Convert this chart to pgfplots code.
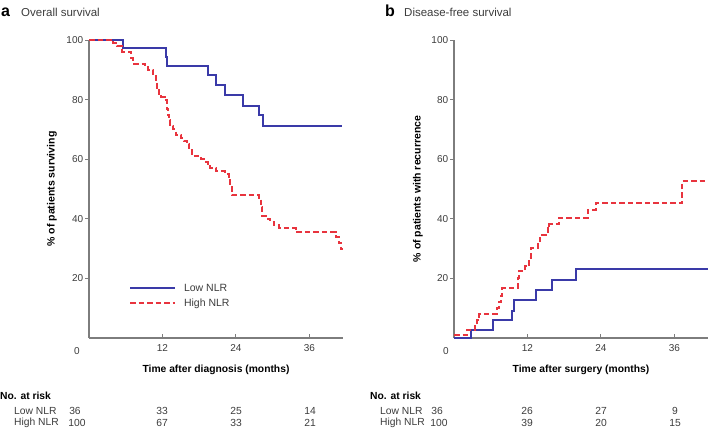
\documentclass[border=0pt]{standalone}
\usepackage{fontspec}
\setmainfont{Liberation Sans}
\usepackage{pgfplots}
\pgfplotsset{compat=1.18}

\definecolor{lownlr}{RGB}{58,58,168}
\definecolor{highnlr}{RGB}{232,52,62}
\definecolor{axgray}{RGB}{125,125,125}
\definecolor{txtgray}{RGB}{60,60,60}

\newcommand{\tickfont}{\fontsize{10}{12}\selectfont}
\newcommand{\riskfont}{\fontsize{10.3}{12}\selectfont}

\pgfplotsset{
  kmaxis/.style={
    scale only axis, width=254pt, height=298pt,
    anchor=south west,
    xmin=0, xmax=41.5, ymin=0, ymax=100,
    axis x line=bottom, axis y line=left,
    axis line style={-, axgray, line width=1.1pt},
    xtick={12,24,36}, ytick={20,40,60,80,100},
    xtick align=inside, ytick align=outside,
    major tick length=3.8pt,
    tick style={axgray, line width=0.9pt},
    clip=false,
    tick label style={font=\tickfont, text=txtgray},
    xticklabel style={yshift=-3pt},
    yticklabel style={xshift=1.5pt},
    /pgf/number format/assume math mode=true,
  },
  lowstyle/.style={const plot, lownlr, line width=2pt},
  highstyle/.style={const plot, highnlr, line width=2pt, dash pattern=on 5.5pt off 3pt},
}

\begin{document}
\begin{tikzpicture}
\useasboundingbox (0pt,0pt) rectangle (709pt,-428pt);

% panel a
\begin{axis}[kmaxis, at={(89pt,-338pt)},
  legend style={at={(rel axis cs:0.145,0.195)}, anchor=north west, draw=none, fill=none,
    font=\fontsize{10.5}{12}\selectfont, row sep=2pt, text=txtgray},
  legend cell align=left,
  legend image code/.code={\draw[#1] (0pt,0pt) -- (45pt,0pt);},
  legend style={nodes={inner xsep=8pt}},
]
\addplot[lowstyle] coordinates {
(0,100) (5.5,97.2) (12.6,94.4) (12.8,91.2) (19.4,88.1) (20.7,84.8) (22.2,81.4)
(25.1,78.0) (27.7,74.7) (28.5,71.1) (41.4,71.1)
};
\addlegendentry{Low NLR}
\addplot[highstyle] coordinates {
(0,100) (4.0,99) (4.6,98) (5.4,96) (6.9,94) (7.2,92) (9.2,91) (9.6,90) (10.5,88)
(10.9,86) (11.1,84) (11.4,82) (11.8,81) (12.4,80) (12.7,77) (12.9,75) (13.1,73)
(13.3,71) (13.7,70) (14.2,68) (15.0,67) (15.5,66) (16.0,65) (16.4,63) (16.8,61)
(18.3,60) (18.8,59) (19.4,58) (19.8,57) (20.8,56) (22.3,55) (22.8,53) (23.0,51)
(23.3,48) (27.8,47) (28.1,44) (28.3,41) (29.2,40) (29.6,39) (30.2,38) (31.0,37)
(33.8,35.5) (40.3,34) (40.8,32) (41.2,30) (41.4,29.6)
};
\addlegendentry{High NLR}
\end{axis}

% panel b
\begin{axis}[kmaxis, at={(454pt,-338pt)}]
\addplot[lowstyle] coordinates {
(0,0) (2.7,2.8) (6.3,6.1) (9.4,9.2) (9.8,12.6) (13.4,16.1) (16.0,19.6) (19.9,23.1) (41.5,23.1)
};
\addplot[highstyle] coordinates {
(0,1) (2.2,2.7) (3.5,4) (3.8,6) (4.1,8.1) (7.0,10) (7.3,12) (7.6,14) (7.9,16.8)
(10.5,20) (10.6,22.6) (11.6,24) (12.3,27) (12.5,30.1) (13.7,32) (14.0,34.4)
(15.3,37) (15.6,38.2) (17.1,40.3) (21.9,43.1) (23.2,45.3) (37.3,52.6) (41.5,52.6)
};
\end{axis}

% titles
\node[anchor=base west, inner sep=0pt, font=\fontsize{16}{18}\selectfont\bfseries] at (1pt,-17pt) {a};
\node[anchor=base west, inner sep=0pt, font=\fontsize{11.5}{13}\selectfont, text=txtgray] at (21pt,-17pt) {Overall survival};
\node[anchor=base west, inner sep=0pt, font=\fontsize{16}{18}\selectfont\bfseries] at (385pt,-17pt) {b};
\node[anchor=base west, inner sep=0pt, font=\fontsize{11.5}{13}\selectfont, text=txtgray] at (404pt,-17pt) {Disease-free survival};

% corner zero labels
\node[font=\tickfont, text=txtgray] at (77pt,-351pt) {0};
\node[font=\tickfont, text=txtgray] at (446pt,-351pt) {0};

% axis labels
\node[rotate=90, font=\fontsize{10.5}{12}\selectfont\bfseries] at (52pt,-189pt) {\% of patients surviving};
\node[rotate=90, font=\fontsize{10.5}{12}\selectfont\bfseries] at (418pt,-189pt) {\% of patients with recurrence};
\node[font=\fontsize{10.3}{12}\selectfont\bfseries] at (216pt,-370pt) {Time after diagnosis (months)};
\node[font=\fontsize{10.3}{12}\selectfont\bfseries] at (581pt,-370pt) {Time after surgery (months)};

% numbers at risk
\begin{scope}[every node/.style={font=\riskfont, text=txtgray}]
\node[anchor=west, inner sep=0pt, font=\riskfont\bfseries, text=black] at (0pt,-396pt) {No. at risk};
\node[anchor=west, inner sep=0pt] at (14pt,-411pt) {Low NLR};
\node[anchor=west, inner sep=0pt] at (14pt,-423pt) {High NLR};
\node at (75pt,-411pt) {36};  \node at (162pt,-411pt) {33}; \node at (236pt,-411pt) {25}; \node at (310pt,-411pt) {14};
\node at (77pt,-423pt) {100}; \node at (162pt,-423pt) {67}; \node at (236pt,-423pt) {33}; \node at (310pt,-423pt) {21};
\node[anchor=west, inner sep=0pt, font=\riskfont\bfseries, text=black] at (370pt,-396pt) {No. at risk};
\node[anchor=west, inner sep=0pt] at (380pt,-411pt) {Low NLR};
\node[anchor=west, inner sep=0pt] at (380pt,-423pt) {High NLR};
\node at (437pt,-411pt) {36};  \node at (527pt,-411pt) {26}; \node at (601pt,-411pt) {27}; \node at (675pt,-411pt) {9};
\node at (439pt,-423pt) {100}; \node at (527pt,-423pt) {39}; \node at (601pt,-423pt) {20}; \node at (675pt,-423pt) {15};
\end{scope}
\end{tikzpicture}
\end{document}
